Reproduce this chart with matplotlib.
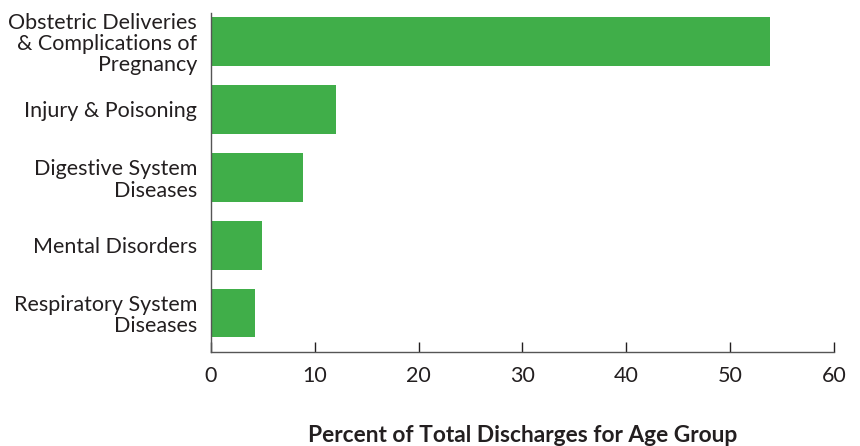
import matplotlib
matplotlib.use("Agg")
import matplotlib.pyplot as plt

categories = ["Obstetric Deliveries\n& Complications of\nPregnancy",
              "Injury & Poisoning",
              "Digestive System\nDiseases",
              "Mental Disorders",
              "Respiratory System\nDiseases"]
values = [53.8, 12.0, 8.9, 4.9, 4.2]
xticks = [0, 10, 20, 30, 40, 50, 60]

text_color = "#231f20"
bar_color = "#40ae49"
plt.rcParams['font.family'] = ['Lato', 'DejaVu Sans']

fig = plt.figure(figsize=(8.6, 4.46), dpi=100)
ax = fig.add_axes([0.2453, 0.211, 0.9698 - 0.2453, 0.971 - 0.211])

pos = list(range(len(categories)))
ax.barh(pos, values, height=0.716, color=bar_color, zorder=2)
ax.set_ylim(4.57, -0.42)
ax.set_xlim(0, 60)
ax.set_xticks(xticks)
ax.set_xticklabels([str(t) for t in xticks], fontsize=15.5, color=text_color)
ax.set_yticks(pos)
ax.set_yticklabels(categories, fontsize=15.5, color=text_color, linespacing=1.08)
ax.tick_params(axis='y', length=0, pad=10)
ax.tick_params(axis='x', direction='in', length=7, width=1, color=text_color, pad=10)
for s in ['top', 'right']:
    ax.spines[s].set_visible(False)
for s in ['left', 'bottom']:
    ax.spines[s].set_color("#555555")
    ax.spines[s].set_linewidth(1)
ax.set_xlabel("Percent of Total Discharges for Age Group", fontsize=16.4,
              fontweight='bold', color=text_color, labelpad=28)

fig.savefig("out.png", dpi=100)
